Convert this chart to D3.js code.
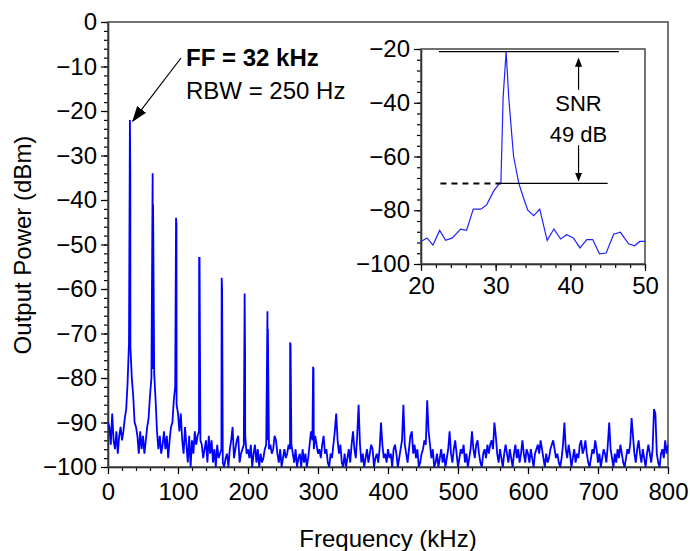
<!DOCTYPE html>
<html>
<head>
<meta charset="utf-8">
<script src="https://cdn.jsdelivr.net/npm/d3@7"></script>
<style>
	body { margin: 0; background: #fff; }
	text { font-family: 'Liberation Sans', Arial, sans-serif; }
</style>
</head>
<body>
<div id="chart"></div>
<script>
// spectrum floor, one value every 2 kHz from 0 to 800 kHz (dBm)
var floorStepKHz = 2;
var floorDb = [
	-90, -91, -95, -88, -94, -96, -92, -97, -93, -91, -94, -92, -89, -87, -81, -72, -73, -80, -84, -90,
	-91, -93, -97, -92, -96, -93, -97, -94, -91, -89, -84, -80, -78, -79, -85, -92, -96, -93, -97, -95,
	-92, -96, -93, -98, -94, -91, -90, -85, -82, -86, -88, -92, -88, -94, -97, -91, -95, -99, -93, -100,
	-94, -97, -92, -95, -93, -92, -94, -95, -98, -96, -94, -99, -93, -97, -94, -99, -96, -100, -95, -98,
	-97, -96, -99, -100, -98, -97, -100, -96, -94, -91, -98, -96, -94, -93, -99, -97, -96, -95, -93, -97,
	-96, -98, -95, -100, -97, -95, -99, -96, -100, -97, -99, -98, -96, -95, -94, -96, -95, -97, -96, -93,
	-94, -97, -99, -96, -100, -98, -96, -98, -97, -95, -96, -95, -97, -99, -96, -100, -98, -97, -100, -96,
	-99, -97, -100, -98, -95, -92, -94, -96, -93, -95, -97, -96, -98, -95, -93, -97, -96, -99, -100, -97,
	-98, -95, -92, -88, -94, -97, -95, -99, -100, -97, -100, -98, -96, -99, -95, -92, -96, -98, -93, -86,
	-95, -99, -97, -100, -98, -96, -99, -97, -95, -96, -100, -98, -97, -99, -96, -90, -95, -98, -97, -99,
	-96, -98, -97, -100, -96, -95, -97, -100, -98, -96, -94, -86, -95, -97, -99, -96, -93, -92, -97, -95,
	-98, -96, -100, -99, -97, -96, -94, -95, -85, -92, -95, -98, -96, -100, -99, -97, -100, -98, -96, -99,
	-97, -100, -98, -96, -92, -97, -99, -96, -94, -97, -100, -98, -96, -97, -95, -99, -97, -100, -98, -96,
	-92, -96, -98, -95, -94, -97, -99, -100, -97, -96, -98, -95, -97, -95, -94, -96, -90, -93, -97, -99,
	-96, -98, -100, -97, -95, -97, -99, -96, -98, -100, -97, -95, -98, -96, -99, -97, -94, -97, -99, -96,
	-97, -99, -96, -98, -100, -97, -96, -95, -97, -94, -96, -98, -100, -97, -99, -98, -96, -95, -94, -96,
	-98, -97, -99, -100, -98, -95, -90, -96, -98, -95, -97, -100, -98, -96, -99, -97, -98, -95, -94, -97,
	-96, -94, -97, -99, -100, -98, -96, -97, -94, -96, -99, -97, -100, -98, -96, -97, -99, -95, -90, -96,
	-98, -100, -97, -99, -96, -98, -95, -97, -99, -100, -98, -96, -97, -95, -89, -93, -97, -99, -96, -94,
	-97, -99, -96, -98, -100, -97, -95, -97, -99, -96, -87, -88, -97, -99, -100, -97, -96, -98, -94, -97,
	-95
];

// harmonic lines of the 32 kHz tone
var harmonicKHz = [31.3, 63.8, 97.2, 130.2, 162.4, 195.2, 227.8, 260.2, 293];
var harmonicPeakDb = [-22, -34, -44, -53, -57.5, -61, -65, -72, -77.5];
var harmonicNextDb = [-34, -41, -45.5, -53, -60, -74, -69, -72.5, -78];

// zoomed view round the fundamental
var insetKHz = [20, 20.8, 21.6, 22.5, 23.3, 24.2, 25.3, 26.1, 27, 28, 28.8, 29.7, 30.5, 30.7, 31.0, 31.4, 31.75, 32.1, 32.4, 33.1, 33.8, 34.3, 35.1, 35.9, 36.9, 37.8, 38.7, 39.5, 40.4, 41.3, 42.2, 43, 43.9, 44.8, 45.8, 46.7, 47.8, 48.6, 49.3, 50];
var insetDb = [-91.6, -90.3, -93, -87.5, -91.2, -90.3, -87, -87.5, -79.6, -79.6, -78, -73, -70, -70, -38, -21, -38, -50, -60, -70, -76, -80, -82, -79.6, -91.2, -87, -90.7, -89.1, -90.3, -94, -90.9, -90.9, -96.2, -95.9, -88.9, -88.2, -92.5, -93.2, -91.6, -91.6];

var peakLevelDb = -21;
var noiseLevelDb = -70;

var xTicks = [0, 100, 200, 300, 400, 500, 600, 700, 800];
var yTicks = [0, -10, -20, -30, -40, -50, -60, -70, -80, -90, -100];
var insetXTicks = [20, 30, 40, 50];
var insetYTicks = [-20, -40, -60, -80, -100];

var W = 690, H = 551;
var fontSize = 24;

var svg = d3.select('#chart').append('svg')
	.attr('width', W)
	.attr('height', H);

svg.append('defs').append('marker')
	.attr('id', 'head')
	.attr('viewBox', '0 0 10 10')
	.attr('refX', 9).attr('refY', 5)
	.attr('markerWidth', 9).attr('markerHeight', 9)
	.attr('markerUnits', 'userSpaceOnUse')
	.attr('orient', 'auto')
	.append('path').attr('d', 'M0,1 L10,5 L0,9 Z').attr('fill', '#000');

svg.append('defs').append('marker')
	.attr('id', 'bighead')
	.attr('viewBox', '0 0 10 10')
	.attr('refX', 9).attr('refY', 5)
	.attr('markerWidth', 16).attr('markerHeight', 16)
	.attr('markerUnits', 'userSpaceOnUse')
	.attr('orient', 'auto')
	.append('path').attr('d', 'M0,1.5 L10,5 L0,8.5 Z').attr('fill', '#000');

svg.append('defs').append('clipPath').attr('id', 'mainclip')
	.append('rect').attr('x', 108).attr('y', 22).attr('width', 560).attr('height', 445);

// ---------- main plot ----------
var x = d3.scaleLinear().domain([0, 800]).range([108, 668]);
var y = d3.scaleLinear().domain([-100, 0]).range([467, 22]);

function drawAxes(g, xs, ys, xMajor, xMinor, yMajor, yMinor, xPad) {
	let bottom = ys.range()[0];
	let left = xs.range()[0];
	g.append('g').attr('transform', 'translate(0,' + bottom + ')')
		.call(d3.axisBottom(xs).tickValues(xMinor).tickSize(4).tickFormat(''))
		.call(a => a.select('.domain').remove());
	g.append('g').attr('transform', 'translate(' + left + ',0)')
		.call(d3.axisLeft(ys).tickValues(yMinor).tickSize(4).tickFormat(''))
		.call(a => a.select('.domain').remove());
	let ax = g.append('g').attr('transform', 'translate(0,' + bottom + ')')
		.call(d3.axisBottom(xs).tickValues(xMajor).tickSize(7).tickSizeOuter(0).tickPadding(xPad));
	let ay = g.append('g').attr('transform', 'translate(' + left + ',0)')
		.call(d3.axisLeft(ys).tickValues(yMajor).tickSize(7).tickSizeOuter(0).tickPadding(4));
	[ax, ay].forEach(a => {
		a.selectAll('text').style('font-size', fontSize + 'px').attr('fill', '#000')
			.style('font-family', "'Liberation Sans', Arial, sans-serif");
	});
	g.selectAll('.tick line').attr('stroke', '#000').attr('stroke-width', 1.2);
	g.selectAll('.domain').attr('stroke', '#000').attr('stroke-width', 1.5);
	g.append('rect')
		.attr('x', xs.range()[0]).attr('y', ys.range()[1])
		.attr('width', xs.range()[1] - xs.range()[0])
		.attr('height', ys.range()[0] - ys.range()[1])
		.attr('fill', 'none').attr('stroke', '#444').attr('stroke-width', 1.5);
}

var mainAxes = svg.append('g');
drawAxes(mainAxes, x, y, xTicks, d3.range(0, 801, 20), yTicks, d3.range(-100, 1, 2), 9);

// merge floor samples and harmonic lines
var spectrum = floorDb.map((d, i) => ({ f: i * floorStepKHz, db: d }));
for (let i = 0; i < harmonicKHz.length; ++i) {
	spectrum.push({ f: harmonicKHz[i], db: harmonicPeakDb[i] });
	spectrum.push({ f: harmonicKHz[i] + 0.6, db: harmonicNextDb[i] });
}
spectrum.sort((a, b) => a.f - b.f);

svg.append('path')
	.datum(spectrum)
	.attr('clip-path', 'url(#mainclip)')
	.attr('fill', 'none')
	.attr('stroke', '#0000ff')
	.attr('stroke-width', 1.8)
	.attr('d', d3.line().x(d => x(d.f)).y(d => y(Math.max(d.db, -100))));

svg.append('text')
	.attr('x', 388).attr('y', 547)
	.attr('text-anchor', 'middle')
	.style('font-size', fontSize + 'px')
	.text('Frequency (kHz)');

svg.append('text')
	.attr('transform', 'translate(31,245) rotate(-90)')
	.attr('text-anchor', 'middle')
	.style('font-size', fontSize + 'px')
	.text('Output Power (dBm)');

svg.append('text')
	.attr('x', 186).attr('y', 66)
	.style('font-size', fontSize + 'px')
	.style('font-weight', 'bold')
	.text('FF = 32 kHz');
svg.append('text')
	.attr('x', 186).attr('y', 99)
	.style('font-size', fontSize + 'px')
	.text('RBW = 250 Hz');

svg.append('line')
	.attr('x1', 181).attr('y1', 58)
	.attr('x2', x(harmonicKHz[0]) + 3).attr('y2', y(harmonicPeakDb[0]) + 1)
	.attr('stroke', '#000').attr('stroke-width', 1.2)
	.attr('marker-end', 'url(#bighead)');

// ---------- inset ----------
var ix = d3.scaleLinear().domain([20, 50]).range([421, 645]);
var iy = d3.scaleLinear().domain([-100, -20]).range([264, 49]);

var inset = svg.append('g');
drawAxes(inset, ix, iy, insetXTicks, d3.range(20, 51, 2), insetYTicks, d3.range(-100, -19, 4), 6);

inset.append('path')
	.datum(insetKHz.map((f, i) => ({ f: f, db: insetDb[i] })))
	.attr('fill', 'none')
	.attr('stroke', '#2020ff')
	.attr('stroke-width', 1.2)
	.attr('d', d3.line().x(d => ix(d.f)).y(d => iy(d.db)));

inset.append('line')
	.attr('x1', ix(22.4)).attr('x2', ix(46.5))
	.attr('y1', iy(peakLevelDb)).attr('y2', iy(peakLevelDb))
	.attr('stroke', '#000').attr('stroke-width', 1.3);
inset.append('line')
	.attr('x1', ix(22.6)).attr('x2', ix(30.7))
	.attr('y1', iy(noiseLevelDb)).attr('y2', iy(noiseLevelDb))
	.attr('stroke', '#000').attr('stroke-width', 2)
	.attr('stroke-dasharray', '6,5');
inset.append('line')
	.attr('x1', ix(30.7)).attr('x2', ix(45))
	.attr('y1', iy(noiseLevelDb)).attr('y2', iy(noiseLevelDb))
	.attr('stroke', '#000').attr('stroke-width', 1.3);

inset.append('line')
	.attr('x1', ix(41.1)).attr('x2', ix(41.1))
	.attr('y1', iy(-35.2)).attr('y2', iy(-23.6))
	.attr('stroke', '#000').attr('stroke-width', 1.2)
	.attr('marker-end', 'url(#head)');
inset.append('line')
	.attr('x1', ix(41.1)).attr('x2', ix(41.1))
	.attr('y1', iy(-55.8)).attr('y2', iy(-69))
	.attr('stroke', '#000').attr('stroke-width', 1.2)
	.attr('marker-end', 'url(#head)');

inset.append('text')
	.attr('x', ix(41.1)).attr('y', 111)
	.attr('text-anchor', 'middle')
	.style('font-size', '22px')
	.text('SNR');
inset.append('text')
	.attr('x', ix(41.1)).attr('y', 142)
	.attr('text-anchor', 'middle')
	.style('font-size', '22px')
	.text('49 dB');
</script>
</body>
</html>
